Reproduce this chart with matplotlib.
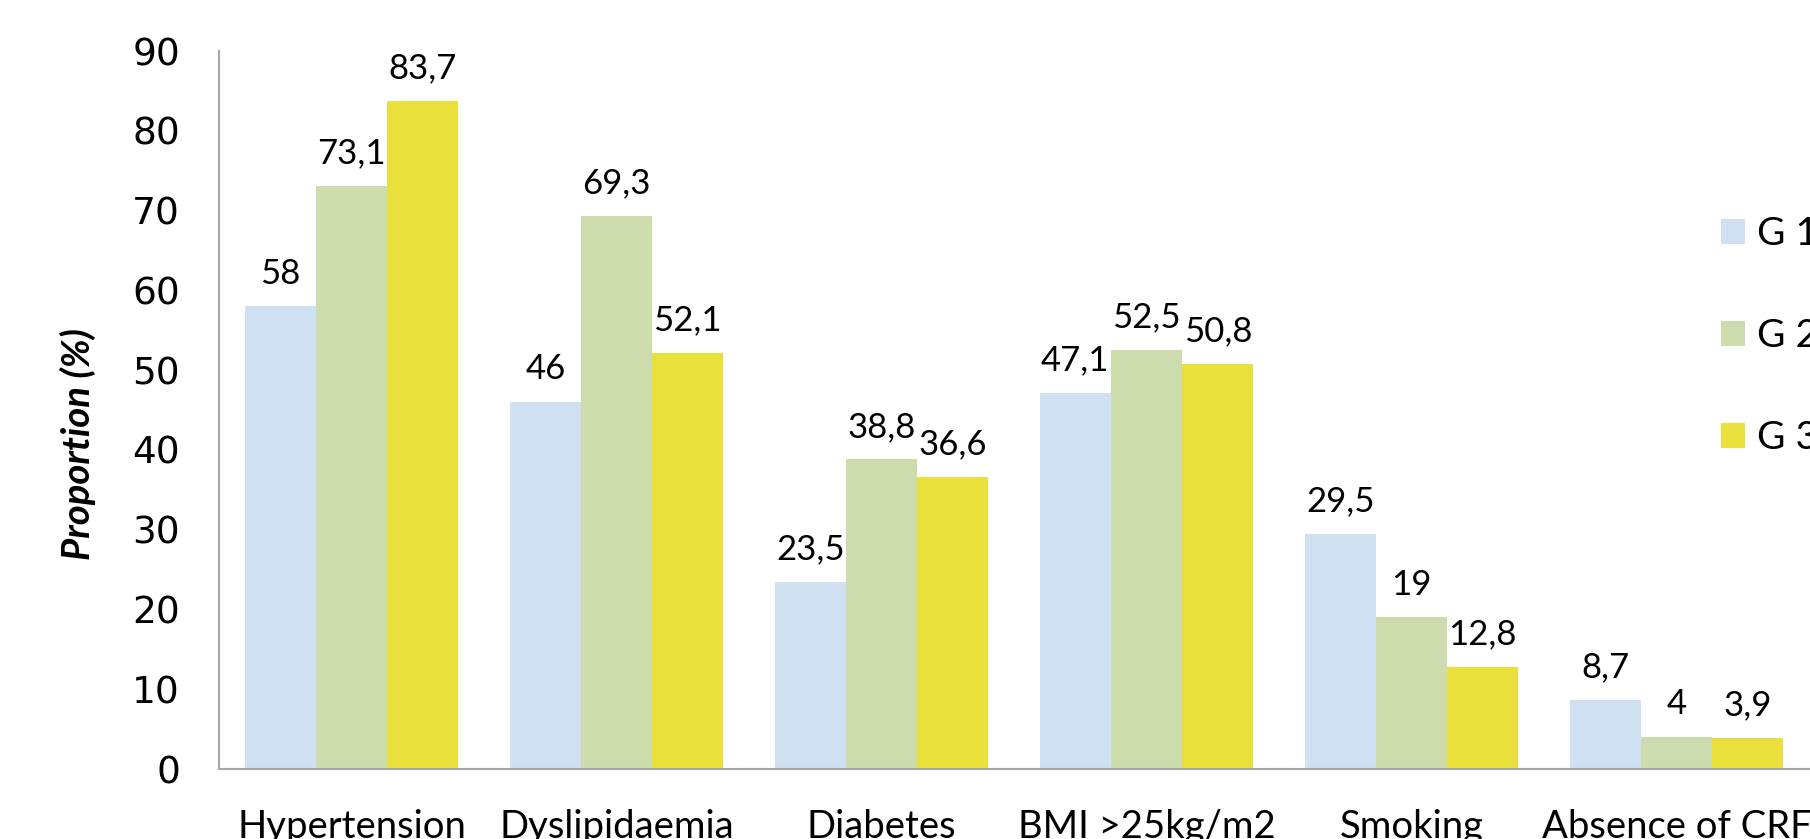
import matplotlib
matplotlib.use("Agg")
import matplotlib.pyplot as plt
import numpy as np

categories = ["Hypertension", "Dyslipidaemia", "Diabetes", "BMI >25kg/m2", "Smoking", "Absence of CRF"]
g1 = [58, 46, 23.5, 47.1, 29.5, 8.7]
g2 = [73.1, 69.3, 38.8, 52.5, 19, 4]
g3 = [83.7, 52.1, 36.6, 50.8, 12.8, 3.9]
series_names = ["G 1", "G 2", "G 3"]
colors = ["#CFE0F2", "#CDDCAD", "#E9E03B"]

W, H = 1810, 839
fig = plt.figure(figsize=(W / 100, H / 100), dpi=100)
ax = fig.add_axes([219 / W, 1 - 769 / H, (1809 - 219) / W, (769 - 51) / H])

x = np.arange(len(categories))
bw = 0.2687
lab_font = "Lato"

def fmt(v):
    if float(v).is_integer():
        return str(int(v))
    return str(v).replace(".", ",")

for i, (vals, name, c) in enumerate(zip([g1, g2, g3], series_names, colors)):
    bars = ax.bar(x + (i - 1) * bw, vals, width=bw, color=c, label=name, zorder=2)
    for b, v in zip(bars, vals):
        ax.annotate(fmt(v), (b.get_x() + b.get_width() / 2, b.get_height()),
                    xytext=(0, 12), textcoords="offset points",
                    ha="center", va="bottom", fontsize=25, family=lab_font)

ax.set_xlim(-0.5, len(categories) - 0.5)
ax.set_ylim(0, 90)
ax.set_yticks(np.arange(0, 91, 10))
ax.tick_params(axis="y", length=0, pad=28, labelsize=27)
for t in ax.get_yticklabels():
    t.set_family("DejaVu Sans")
ax.set_xticks(x)
ax.set_xticklabels(categories, fontsize=27.5, family=lab_font)
ax.tick_params(axis="x", length=0, pad=29)

for s in ["top", "right"]:
    ax.spines[s].set_visible(False)
for s in ["left", "bottom"]:
    ax.spines[s].set_color("#A6A6A6")
    ax.spines[s].set_linewidth(1.5)

fig.text(78 / W, 1 - 444 / H, "Proportion (%)", rotation=90, ha="center", va="center",
         fontsize=27.5, fontweight="bold", fontstyle="italic", family=lab_font)

ax.legend(loc="center left", bbox_to_anchor=(1721 / W, 1 - 336 / H), bbox_transform=fig.transFigure,
          frameon=False, prop={"family": lab_font, "size": 28}, borderpad=0, borderaxespad=0,
          handlelength=0.62, handleheight=0.62, handletextpad=0.3, labelspacing=1.7)

fig.savefig("out.png", dpi=100)
